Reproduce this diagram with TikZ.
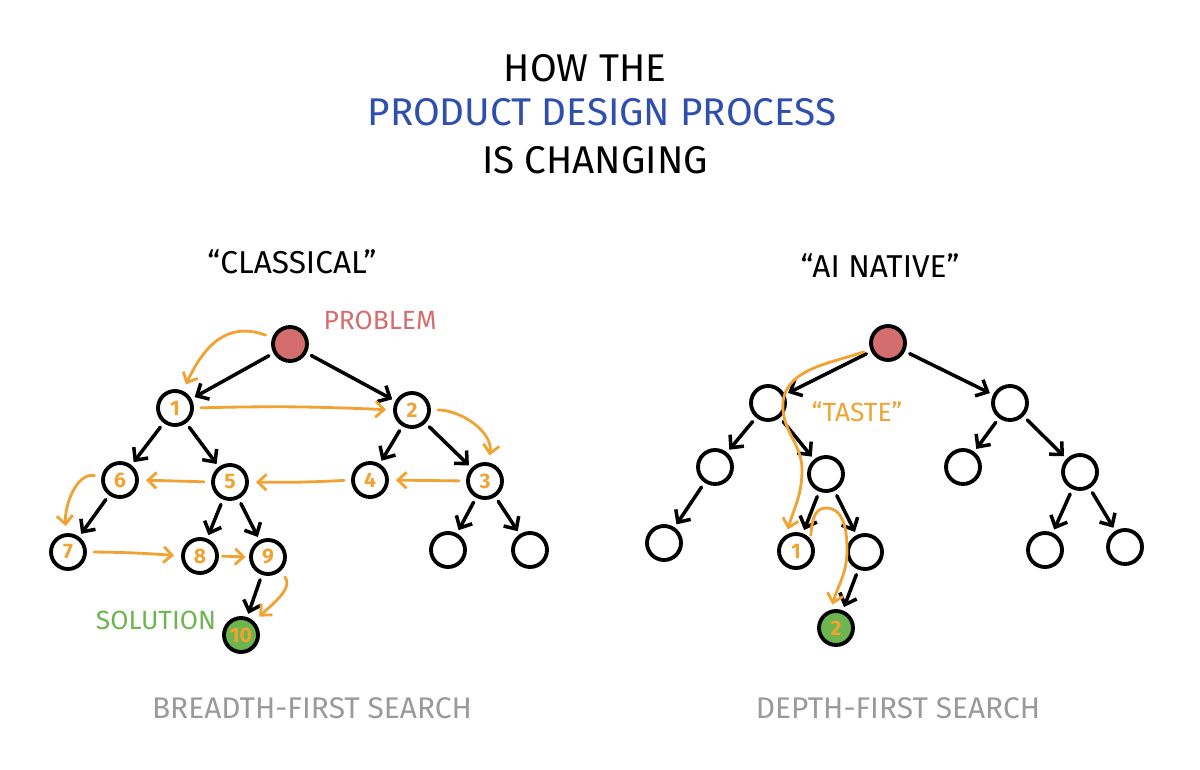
\documentclass[tikz,border=0pt]{standalone}
\usepackage{fontspec}
\setmainfont{Fira Sans}
\usetikzlibrary{positioning,arrows.meta}
\definecolor{sketchorange}{HTML}{F0A232}
\definecolor{probred}{HTML}{D46E6E}
\definecolor{solgreen}{HTML}{6DB54F}
\definecolor{titleblue}{HTML}{2F4FAF}
\definecolor{footgray}{HTML}{9A9A9A}
\tikzset{
  every picture/.style={line width=1.8pt},
  vtx/.style={draw,circle,minimum size=6.8mm,inner sep=0,line width=2.2pt,text=sketchorange,font=\fontsize{12}{13}\selectfont\bfseries},
  prob/.style={vtx,fill=probred},
  sol/.style={vtx,fill=solgreen},
  edge/.style={-{Straight Barb[length=1.9mm,width=3.6mm]},line width=2pt,line cap=round,shorten <=3pt,shorten >=2pt},
  visit/.style={-{Straight Barb[length=1.7mm,width=3.2mm]},draw=sketchorange,line width=1.6pt,line cap=round,shorten <=4pt,shorten >=4pt},
  ttl/.style={font=\fontsize{22}{26}\selectfont,inner sep=0},
  sub/.style={font=\fontsize{18}{22}\selectfont,inner sep=0},
  lbl/.style={font=\fontsize{15}{18}\selectfont,inner sep=0},
  foot/.style={font=\fontsize{17}{20}\selectfont,text=footgray,inner sep=0},
}

\begin{document}
\begin{tikzpicture}[x=0.02cm,y=-0.02cm]
\useasboundingbox (0,0) rectangle (1200,770);
% --- title ---
\node[ttl] (T1) at (585,68) {HOW THE};
\node[ttl,text=titleblue] (T2) at (602,112) {PRODUCT DESIGN PROCESS};
\node[ttl] (T3) at (595,160) {IS CHANGING};
\node[sub] (HL) at (292,262) {``CLASSICAL''};
\node[sub] (HR) at (880,266) {``AI NATIVE''};
% --- left tree (breadth-first) ---
\node[prob] (P) at (290,344) {};
\foreach \n/\x/\y/\t in {A1/175/408/1, A2/412/410/2, A6/120/480/6, A5/230/482/5,
    A4/370/480/4, A3/485/481/3, A7/68/552/7, A8/200/556/8, A9/268/557/9}{
  \node[vtx] (\n) at (\x,\y) {\t};
}
\node[sol] (A10) at (241,635) {10};
\node[vtx] (A11) at (448,550) {};
\node[vtx] (A12) at (530,550) {};
\foreach \a/\b in {P/A1,P/A2,A1/A6,A1/A5,A2/A4,A2/A3,A6/A7,A5/A8,A5/A9,A9/A10,A3/A11,A3/A12}
  \draw[edge] (\a) -- (\b);
\node[lbl,text=probred] (PL) at (380,320) {PROBLEM};
\node[lbl,text=solgreen] (SL) at (156,620) {SOLUTION};
% visiting order
\draw[visit] (P) to[out=160,in=65,looseness=1.2] (A1);
\draw[visit] (A1.east) to[bend left=2] (A2.west);
\draw[visit] (A2) to[out=0,in=80] (A3);
\draw[visit] (A3.west) -- (A4.east);
\draw[visit] (A4.west) to[bend left=2] (A5.east);
\draw[visit] (A5.west) -- (A6.east);
\draw[visit] (A6) to[out=170,in=95] (A7);
\draw[visit] (A7.east) to[bend left=2] (A8.west);
\draw[visit,shorten <=2pt,shorten >=2pt] (A8.east) -- (A9.west);
\draw[visit] (A9) to[out=-50,in=45] (A10);
\node[foot] (FL) at (312,708) {BREADTH-FIRST SEARCH};
% --- right tree (depth-first) ---
\node[prob] (R) at (888,343) {};
\foreach \n/\x/\y in {B1/768/403, B2/1010/403, B3/715/467, B4/826/474, B5/963/467,
    B6/1080/472, B7/664/543, B9/865/552, B11/1045/550, B12/1125/547}{
  \node[vtx] (\n) at (\x,\y) {};
}
\node[vtx] (B8) at (796,551) {1};
\node[sol] (B10) at (836,628) {2};
\foreach \a/\b in {R/B1,R/B2,B1/B3,B1/B4,B2/B5,B2/B6,B3/B7,B4/B8,B4/B9,B9/B10,B6/B11,B6/B12}
  \draw[edge] (\a) -- (\b);
\node[lbl,text=sketchorange] (TL) at (857,412) {``TASTE''};
% taste path
\coordinate (tw1) at (783,410);
\coordinate (tw2) at (802,470);
\coordinate (tw3) at (826,508);
\coordinate (tw4) at (847,550);
\draw[visit,shorten >=3pt] (R) to[out=200,in=95] (tw1) to[out=-85,in=90] (tw2) to[out=-90,in=75] (B8.120);
\draw[visit,shorten <=2pt,shorten >=3pt] (B8.40) to[out=85,in=180] (tw3) to[out=0,in=90] (tw4) to[out=-90,in=75] (B10.105);
\node[foot] (FR) at (898,708) {DEPTH-FIRST SEARCH};
\end{tikzpicture}
\end{document}
